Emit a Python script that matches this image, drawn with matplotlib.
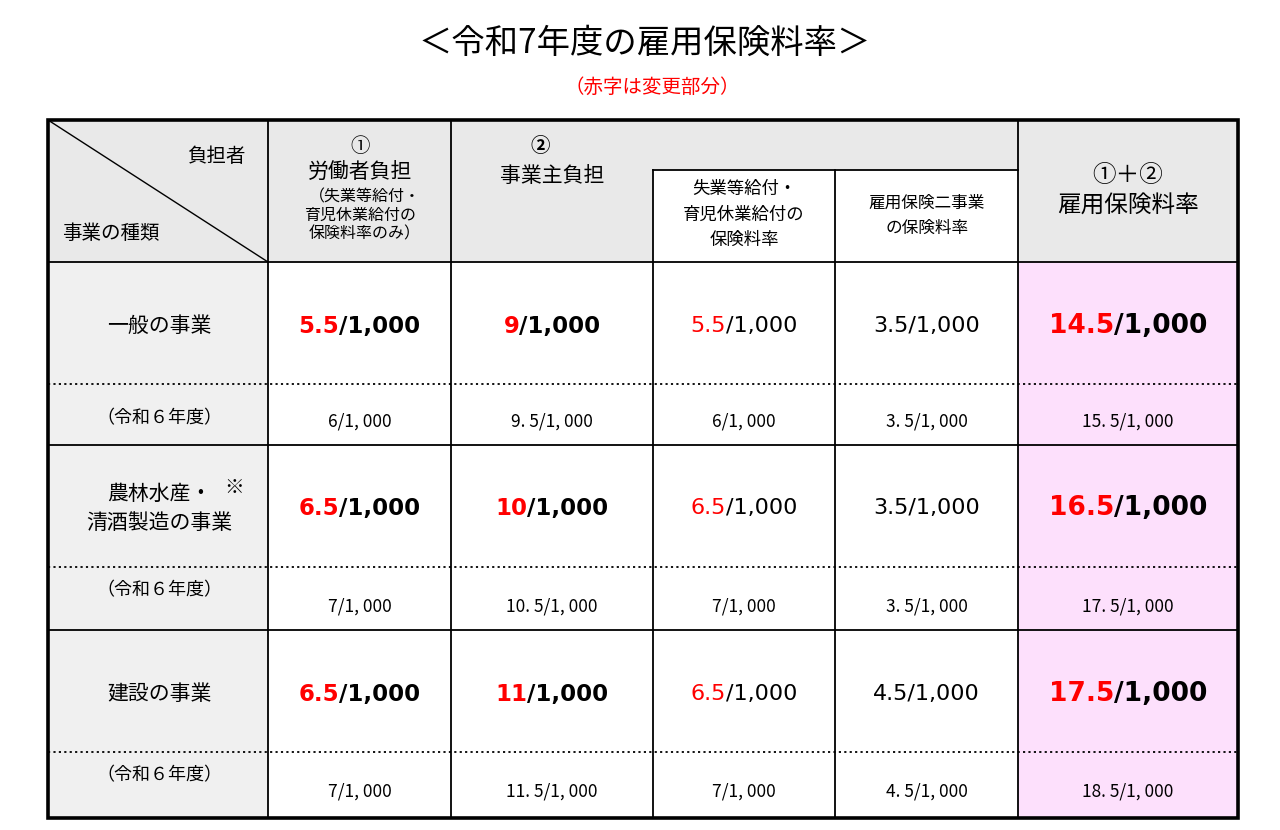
import matplotlib
matplotlib.use("Agg")
import matplotlib.pyplot as plt
from matplotlib.patches import Rectangle
from matplotlib.offsetbox import TextArea, HPacker, AnnotationBbox

FONT = "Noto Sans CJK JP"
NUMFONT = "DejaVu Sans"
plt.rcParams["font.family"] = FONT

title = "＜令和7年度の雇用保険料率＞"
subtitle = "（赤字は変更部分）"
categories = [["一般の事業"], ["農林水産・", "清酒製造の事業"], ["建設の事業"]]
prev_label = "（令和６年度）"
# current year values: (red part, black part) per column
current = [
    [("5.5", "/1,000"), ("9", "/1,000"), ("5.5", "/1,000"), ("", "3.5/1,000"), ("14.5", "/1,000")],
    [("6.5", "/1,000"), ("10", "/1,000"), ("6.5", "/1,000"), ("", "3.5/1,000"), ("16.5", "/1,000")],
    [("6.5", "/1,000"), ("11", "/1,000"), ("6.5", "/1,000"), ("", "4.5/1,000"), ("17.5", "/1,000")],
]
previous = [
    ["6/1, 000", "9. 5/1, 000", "6/1, 000", "3. 5/1, 000", "15. 5/1, 000"],
    ["7/1, 000", "10. 5/1, 000", "7/1, 000", "3. 5/1, 000", "17. 5/1, 000"],
    ["7/1, 000", "11. 5/1, 000", "7/1, 000", "4. 5/1, 000", "18. 5/1, 000"],
]

col_x = [48, 268, 451, 653, 835, 1018, 1238]
row_y = [262, 384, 445, 567, 630, 752, 818]
top, hdr = 120, 262
bold_cols = [True, True, False, False, True]
sizes = [16.5, 16.5, 16, 16, 19]

fig = plt.figure(figsize=(12.8, 8.3), dpi=100)
ax = fig.add_axes([0, 0, 1, 1])
ax.set_xlim(0, 1280); ax.set_ylim(830, 0); ax.axis("off")

ax.add_patch(Rectangle((48, top), 1190, hdr - top, color="#e9e9e9", zorder=0))
ax.add_patch(Rectangle((48, hdr), 220, 818 - hdr, color="#f0f0f0", zorder=0))
ax.add_patch(Rectangle((268, hdr), 750, 818 - hdr, color="white", zorder=0))
ax.add_patch(Rectangle((1018, hdr), 220, 818 - hdr, color="#fde0fc", zorder=0))
ax.add_patch(Rectangle((653, 170), 365, hdr - 170, color="white", zorder=0))

lw = 1.3
for x in col_x[1:-1]:
    y0 = 170 if x in (653, 835) else top
    ax.plot([x, x], [y0, 818], color="black", lw=lw)
ax.plot([653, 1018], [170, 170], color="black", lw=lw)
ax.plot([48, 1238], [hdr, hdr], color="black", lw=lw)
for i, y in enumerate(row_y[1:-1]):
    if i % 2 == 0:
        ax.plot([48, 1238], [y, y], color="black", lw=1.3, ls=(0, (1.2, 1.8)))
    else:
        ax.plot([48, 1238], [y, y], color="black", lw=lw)
ax.add_patch(Rectangle((48, top), 1190, 818 - top, fill=False, lw=2.6, ec="black"))
ax.plot([48, 268], [top, hdr], color="black", lw=1)

def t(x, y, s, size, **kw):
    kw.setdefault("ha", "center")
    ax.text(x, y, s, fontsize=size, va="center", **kw)

t(645, 43, title, 24)
t(652, 87, subtitle, 14, color="red")
t(246, 157, "負担者", 14, ha="right")
t(62, 233, "事業の種類", 14, ha="left")
t(360, 147, "①", 14); t(360, 172, "労働者負担", 15)
t(365, 197, "（失業等給付・", 11.5); t(360, 215, "育児休業給付の", 11.5); t(365, 234, "保険料率のみ）", 11.5)
t(540, 147, "②", 14, weight="bold"); t(552, 176, "事業主負担", 15)
t(744, 189, "失業等給付・", 12.5); t(744, 215, "育児休業給付の", 12.5); t(744, 240, "保険料率", 12.5)
t(927, 203, "雇用保険二事業", 12); t(927, 228, "の保険料率", 12)
t(1128, 175, "①＋②", 17); t(1128, 206, "雇用保険料率", 17)

cat_y = [[326], [494, 523], [694]]
for lines, ys in zip(categories, cat_y):
    for s, y in zip(lines, ys):
        t(159, y, s, 15)
t(234, 487, "※", 14)
prev_lab_y = [418, 590, 775]
prev_val_y = [421, 606, 791]
cur_y = [326, 508, 694]
for r in range(3):
    t(159, prev_lab_y[r], prev_label, 13)
    for c in range(5):
        cx = (col_x[c + 1] + col_x[c + 2]) / 2
        red, blk = current[r][c]
        w = "bold" if bold_cols[c] else "normal"
        parts = []
        if red:
            parts.append(TextArea(red, textprops=dict(color="red", fontsize=sizes[c], weight=w, family=NUMFONT)))
        parts.append(TextArea(blk, textprops=dict(color="black", fontsize=sizes[c], weight=w, family=NUMFONT)))
        ab = AnnotationBbox(HPacker(children=parts, pad=0, sep=0), (cx, cur_y[r]),
                            frameon=False, box_alignment=(0.5, 0.5), pad=0)
        ax.add_artist(ab)
        t(cx, prev_val_y[r], previous[r][c], 12.5)

fig.savefig("out.png", dpi=100)
